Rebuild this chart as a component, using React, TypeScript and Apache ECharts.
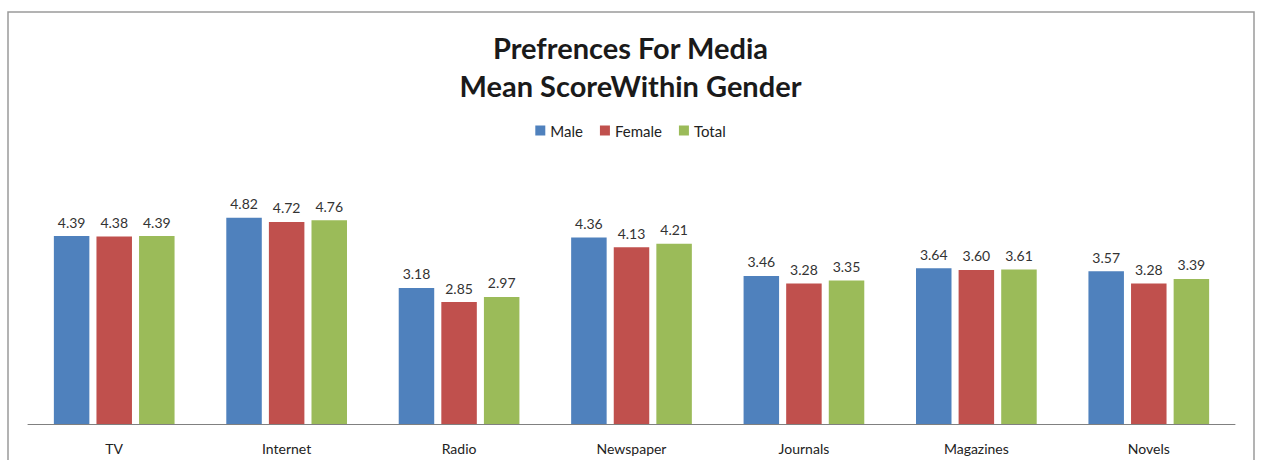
import React, { useEffect, useRef } from "react";
import * as echarts from "echarts";

const categories = ["TV", "Internet", "Radio", "Newspaper", "Journals", "Magazines", "Novels"];
const maleValues = [4.39, 4.82, 3.18, 4.36, 3.46, 3.64, 3.57];
const femaleValues = [4.38, 4.72, 2.85, 4.13, 3.28, 3.6, 3.28];
const totalValues = [4.39, 4.76, 2.97, 4.21, 3.35, 3.61, 3.39];
const seriesNames = ["Male", "Female", "Total"];
const seriesColors = ["#4F81BD", "#C0504D", "#9BBB59"];
const titleLines = ["Prefrences For Media", "Mean ScoreWithin Gender"];

const FONT = "Lato, 'Open Sans', sans-serif";

export default function App() {
  const ref = useRef<HTMLDivElement>(null);
  useEffect(() => {
    if (!ref.current) return;
    const chart = echarts.init(ref.current, null, { renderer: "svg" });
    const dataSets = [maleValues, femaleValues, totalValues];
    chart.setOption({
      animation: false,
      backgroundColor: "#ffffff",
      title: {
        text: titleLines.join("\n"),
        left: "center",
        top: 23,
        textStyle: {
          fontFamily: FONT,
          fontWeight: "bold",
          fontSize: 29,
          lineHeight: 38,
          color: "#1a1a1a",
        },
      },
      legend: {
        top: 118,
        left: "center",
        itemWidth: 10,
        itemHeight: 10,
        itemGap: 17,
        itemStyle: {},
        icon: "rect",
        textStyle: { fontFamily: FONT, fontSize: 15, color: "#222" },
        data: seriesNames,
      },
      grid: { left: 28, right: 26, top: 210, bottom: 36, containLabel: false },
      xAxis: {
        type: "category",
        data: categories,
        axisLine: { lineStyle: { color: "#808080", width: 1 } },
        axisTick: { show: false },
        axisLabel: { fontFamily: FONT, fontSize: 14, color: "#222", margin: 17 },
      },
      yAxis: {
        type: "value",
        min: 0,
        max: 5,
        show: false,
        splitLine: { show: false },
      },
      graphic: [
        {
          type: "rect",
          shape: { x: 8, y: 12, width: 1246, height: 470 },
          style: { fill: "none", stroke: "#9a9a9a", lineWidth: 1.5 },
          silent: true,
        },
      ],
      series: seriesNames.map((name, i) => ({
        name,
        type: "bar",
        data: dataSets[i],
        barGap: "20%",
        barCategoryGap: "30%",
        itemStyle: { color: seriesColors[i] },
        label: {
          show: true,
          position: "top",
          distance: 7,
          formatter: (p: any) => p.value.toFixed(2),
          fontFamily: FONT,
          fontSize: 14,
          color: "#333",
        },
      })),
    });
    return () => chart.dispose();
  }, []);
  return (
    <div
      ref={ref}
      style={{ position: "fixed", left: 0, top: 0, width: 1261, height: 460 }}
    />
  );
}
